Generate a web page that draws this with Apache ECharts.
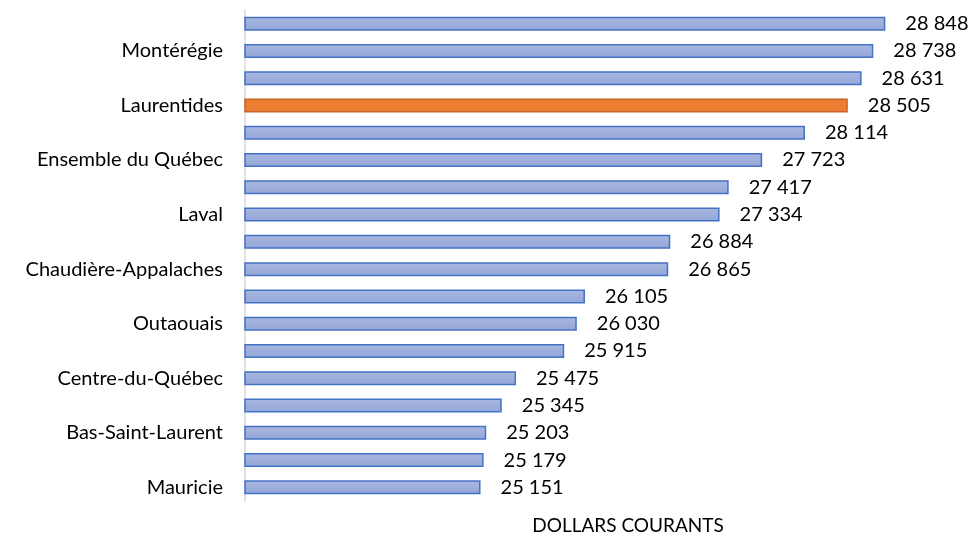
<!DOCTYPE html>
<html>
<head>
<meta charset="utf-8">
<script src="https://cdn.jsdelivr.net/npm/echarts@6/dist/echarts.min.js"></script>
<style>
  html, body { margin: 0; padding: 0; background: #fff; }
  #chart { width: 973px; height: 541px; }
</style>
</head>
<body>
<div id="chart"></div>
<script>
// régions, du haut vers le bas (seule une sur deux est affichée)
var regions = [
  'Capitale-Nationale', 'Montérégie', 'Côte-Nord', 'Laurentides',
  'Nord-du-Québec', 'Ensemble du Québec', 'Lanaudière', 'Laval',
  'Montréal', 'Chaudière-Appalaches', 'Abitibi-Témiscamingue', 'Outaouais',
  'Estrie', 'Centre-du-Québec', 'Saguenay–Lac-Saint-Jean', 'Bas-Saint-Laurent',
  'Gaspésie–Îles-de-la-Madeleine', 'Mauricie'
];
var revenus = [
  28848, 28738, 28631, 28505, 28114, 27723, 27417, 27334, 26884,
  26865, 26105, 26030, 25915, 25475, 25345, 25203, 25179, 25151
];
var regionEnAvant = 'Laurentides';

var chart = echarts.init(document.getElementById('chart'));

var barData = revenus.map(function (v, i) {
  if (regions[i] === regionEnAvant) {
    return {
      value: v,
      itemStyle: { color: '#ed7d31', borderColor: '#c8642a', borderWidth: 1.5 }
    };
  }
  return v;
});

var option = {
  animation: false,
  textStyle: { fontFamily: 'Lato, "Open Sans", sans-serif' },
  grid: { left: 245, top: 10, width: 657, height: 491 },
  xAxis: {
    type: 'value',
    min: 23000,
    max: 29000,
    show: false
  },
  yAxis: {
    type: 'category',
    data: regions,
    inverse: true,
    axisLine: { show: true, lineStyle: { color: '#d9d9d9', width: 1.5 } },
    axisTick: { show: false },
    axisLabel: {
      interval: 0,
      formatter: function (val, i) { return i % 2 === 1 ? val : ''; },
      color: '#000',
      fontSize: 20,
      margin: 22
    }
  },
  series: [{
    type: 'bar',
    data: barData,
    barWidth: 14,
    itemStyle: {
      color: new echarts.graphic.LinearGradient(0, 0, 0, 1, [
        { offset: 0, color: '#a9b8e0' },
        { offset: 1, color: '#93a6d8' }
      ]),
      borderColor: '#4472c4',
      borderWidth: 1.5
    },
    label: {
      show: true,
      position: 'right',
      distance: 20,
      color: '#000',
      fontSize: 20,
      formatter: function (p) {
        return String(p.value).replace(/\B(?=(\d{3})+(?!\d))/g, ' ');
      }
    }
  }],
  graphic: [{
    type: 'text',
    x: 628,
    y: 516,
    style: {
      text: 'DOLLARS COURANTS',
      fill: '#000',
      font: '19px Lato, "Open Sans", sans-serif',
      textAlign: 'center',
      textVerticalAlign: 'top'
    }
  }]
};

chart.setOption(option);
</script>
</body>
</html>
